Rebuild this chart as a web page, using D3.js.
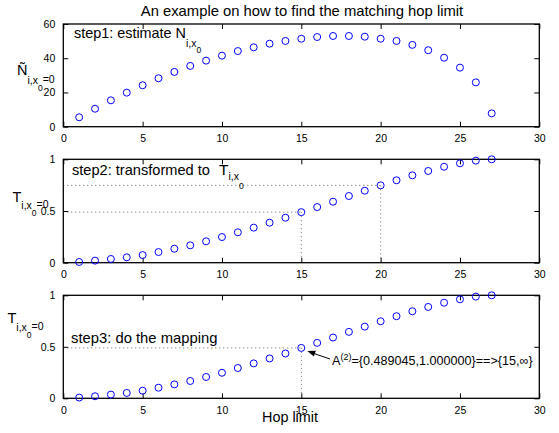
<!DOCTYPE html>
<html>
<head>
<meta charset="utf-8">
<script src="https://cdn.jsdelivr.net/npm/d3@7/dist/d3.min.js"></script>
<style>
body { margin: 0; background: #fff; }
text { font-family: "Liberation Sans", Arial, Helvetica, sans-serif; fill: #000; }
</style>
</head>
<body>
<svg id="chart" width="559" height="433"></svg>
<script>
// data
var hops = [1,2,3,4,5,6,7,8,9,10,11,12,13,14,15,16,17,18,19,20,21,22,23,24,25,26,27];
var nEstimate = [5.5,10.5,15.4,19.9,24.2,28.3,32.0,35.5,38.6,41.5,44.2,46.4,48.5,50.1,51.4,
                 52.4,53.0,53.0,52.6,51.4,50.1,47.8,44.7,40.3,34.5,25.9,7.8];
var tValues = [0.007,0.02,0.036,0.052,0.074,0.103,0.135,0.168,0.207,0.248,0.294,0.339,0.387,0.435,0.489,
               0.538,0.59,0.645,0.696,0.748,0.797,0.845,0.887,0.928,0.961,0.987,1.0];
var xTicks = [0,5,10,15,20,25,30];
var nTicks = [0,20,40,60];
var tTicks = [0,0.5,1];
var step2Hops = [15,20];
var step3Hops = [15];

var svg = d3.select("#chart");
var left = 63.3, right = 539.3;

var x = d3.scaleLinear().domain([0,30]).range([left, right]);

function panel(top, bottom, ymax, yticks, values) {
    var y = d3.scaleLinear().domain([0, ymax]).range([bottom, top]);
    var g = svg.append("g");

    // x axis bottom + top (inward ticks)
    var xb = d3.axisBottom(x).tickValues(xTicks).tickSizeInner(-5).tickSizeOuter(0).tickPadding(8);
    g.append("g").attr("transform", "translate(0," + bottom + ")").call(xb);
    var xt = d3.axisTop(x).tickValues(xTicks).tickSizeInner(-5).tickSizeOuter(0).tickFormat("");
    g.append("g").attr("transform", "translate(0," + top + ")").call(xt);

    var yl = d3.axisLeft(y).tickValues(yticks).tickSizeInner(-5).tickSizeOuter(0).tickPadding(8)
        .tickFormat(function(d){ return +d; });
    g.append("g").attr("transform", "translate(" + left + ",0)").call(yl);
    var yr = d3.axisRight(y).tickValues(yticks).tickSizeInner(-5).tickSizeOuter(0).tickFormat("");
    g.append("g").attr("transform", "translate(" + right + ",0)").call(yr);

    g.selectAll(".domain").remove();
    g.selectAll(".tick line").attr("stroke", "#000").attr("stroke-width", 1);
    g.selectAll(".tick text").attr("font-size", "10.5px").attr("fill", "#000")
        .style("font-family", "'Liberation Sans', Arial, sans-serif");

    g.append("rect")
        .attr("x", left).attr("y", top)
        .attr("width", right - left).attr("height", bottom - top)
        .attr("fill", "none").attr("stroke", "#000").attr("stroke-width", 1.3);

    return {g: g, y: y, values: values};
}

function dots(p) {
    p.g.selectAll("circle.pt").data(hops).enter()
        .append("circle").attr("class", "pt")
        .attr("cx", function(d){ return x(d); })
        .attr("cy", function(d, i){ return p.y(p.values[i]); })
        .attr("r", 3.5)
        .attr("fill", "none")
        .attr("stroke", "#0000ff")
        .attr("stroke-width", 1);
}

function guides(p, list) {
    list.forEach(function(h){
        var v = p.values[hops.indexOf(h)];
        p.g.append("line")
            .attr("x1", x(0)).attr("x2", x(h))
            .attr("y1", p.y(v)).attr("y2", p.y(v))
            .attr("stroke", "#333").attr("stroke-width", 0.8).attr("stroke-dasharray", "1,3");
        p.g.append("line")
            .attr("x1", x(h)).attr("x2", x(h))
            .attr("y1", p.y(v)).attr("y2", p.y(0))
            .attr("stroke", "#555").attr("stroke-width", 0.8).attr("stroke-dasharray", "1,3");
    });
}

var p1 = panel(24, 126.7, 60, nTicks, nEstimate);
var p2 = panel(159.3, 262.7, 1, tTicks, tValues);
var p3 = panel(295.3, 398.3, 1, tTicks, tValues);

guides(p2, step2Hops);
guides(p3, step3Hops);
dots(p1);
dots(p2);
dots(p3);

// title
svg.append("text").attr("x", 302).attr("y", 16).attr("text-anchor", "middle")
    .attr("font-size", "14.8px").text("An example on how to find the matching hop limit");

// y labels
function ylab(xp, yp, main, d1, d2) {
    var t = svg.append("text").attr("x", xp).attr("y", yp).attr("font-size", "14.5px");
    t.append("tspan").text(main);
    t.append("tspan").attr("font-size", "10.5px").attr("dy", d1).text("i,x");
    t.append("tspan").attr("font-size", "8.5px").attr("dy", d2).text("0");
    t.append("tspan").attr("font-size", "10.5px").attr("dy", -d2 - 1).text("=0");
}
ylab(17, 75, "Ñ", 9, 6.5);
ylab(12.5, 201.7, "T", 7.5, 7);
ylab(7.5, 323, "T", 7.5, 7);

// step texts
var s1 = svg.append("text").attr("x", 74).attr("y", 38).attr("font-size", "14.4px");
s1.append("tspan").text("step1: estimate N");
s1.append("tspan").attr("font-size", "10.5px").attr("dy", 8.5).text("i,x");
s1.append("tspan").attr("font-size", "8.5px").attr("dy", 6).text("0");

var s2 = svg.append("text").attr("x", 72).attr("y", 175).attr("font-size", "14.6px")
    .style("white-space", "pre");
s2.append("tspan").text("step2: transformed to  ");
s2.append("tspan").attr("font-size", "15.5px").attr("dx", 1).text("T");
s2.append("tspan").attr("font-size", "10.5px").attr("dy", 5).text("i,x");
s2.append("tspan").attr("font-size", "8.5px").attr("dy", 8.5).text("0");

svg.append("text").attr("x", 71).attr("y", 343).attr("font-size", "14.8px")
    .text("step3: do the mapping");

// x label
svg.append("text").attr("x", 262).attr("y", 421.5).attr("font-size", "14.4px").text("Hop limit");

// annotation with arrow
var v15 = tValues[hops.indexOf(15)];
var hx = x(15) + 6, hy = p3.y(v15) + 3;
var tx = 330, ty = 359;
svg.append("line").attr("x1", tx).attr("y1", ty).attr("x2", hx + 5).attr("y2", hy + 2)
    .attr("stroke", "#000").attr("stroke-width", 1);
var ang = Math.atan2(ty - hy, tx - hx);
var L = 8, W = 3;
var bx = hx + L * Math.cos(ang), by = hy + L * Math.sin(ang);
svg.append("path")
    .attr("d", "M" + hx + "," + hy +
        "L" + (bx - W * Math.sin(ang)) + "," + (by + W * Math.cos(ang)) +
        "L" + (bx + W * Math.sin(ang)) + "," + (by - W * Math.cos(ang)) + "Z")
    .attr("fill", "#000");

var an = svg.append("text").attr("x", 332).attr("y", 365).attr("font-size", "12.6px");
an.append("tspan").text("A");
an.append("tspan").attr("font-size", "9px").attr("dy", -5).text("(2)");
an.append("tspan").attr("dy", 5).text("={0.489045,1.000000}==>{15,\u221e}");
</script>
</body>
</html>
